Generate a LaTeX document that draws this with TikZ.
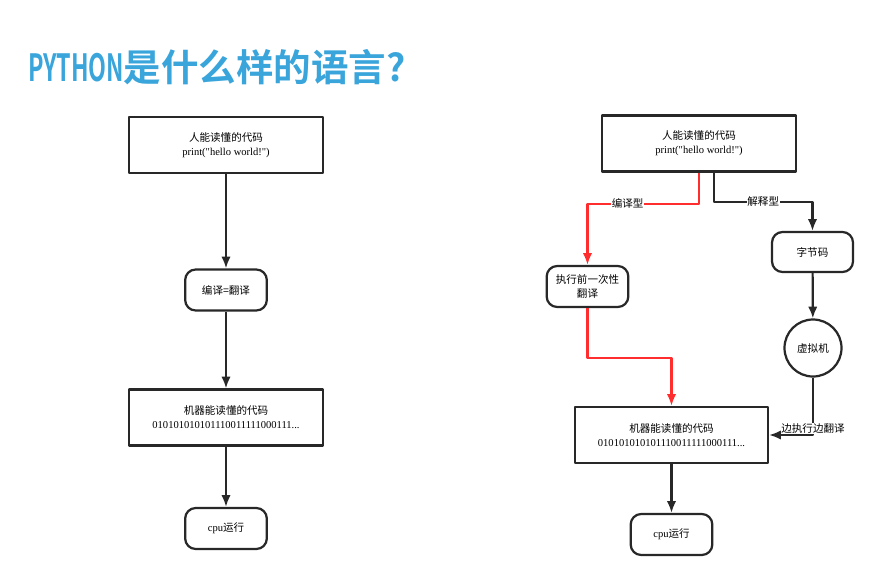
\documentclass[tikz,border=0pt]{standalone}
\usepackage{fontspec}
\usepackage{graphicx}
\usetikzlibrary{arrows.meta}
\setmainfont{Liberation Serif}[Ligatures=TeXOff]
\newfontfamily\cjk{Noto Sans CJK SC}
\newfontfamily\titlefont{Noto Sans CJK SC}[BoldFont=* Bold]
\definecolor{titleblue}{RGB}{58,165,219}
\definecolor{lineblack}{RGB}{40,40,40}
\definecolor{linered}{RGB}{255,45,45}
\begin{document}
\begin{tikzpicture}[x=0.03cm,y=-0.03cm,>={Latex[length=10pt,width=8pt]}, font=\fontsize{9}{12}\selectfont, line join=round,
	codebox/.style={draw=lineblack, line width=1.9pt, minimum width=5.82cm, minimum height=1.68cm, align=center, inner sep=1pt},
	stepnode/.style={draw=lineblack, line width=1.9pt, rounded corners=9pt, minimum width=2.45cm, minimum height=1.23cm, align=center, inner sep=1pt},
	vmnode/.style={draw=lineblack, line width=1.9pt, circle, minimum size=1.71cm, inner sep=0pt},
	flow/.style={->, color=lineblack, line width=1.9pt},
	redflow/.style={->, color=linered, line width=1.9pt},
	tag/.style={fill=white, text=black, inner sep=0.5pt}]
			\useasboundingbox (0,0) rectangle (889,584);
			% title
			\node[anchor=west, text=titleblue, font=\titlefont\bfseries\fontsize{32}{35}\selectfont, inner sep=0pt] (title) at (28,67) {\scalebox{0.62}[1]{PYTHON}是什么样的语言?};
			% left flow
			\node[codebox] (srcL) at (226,145) {{\cjk 人能读懂的代码}\\print("hello world!")};
			\node[stepnode] (transL) at (226,290) {{\cjk 编译=翻译}};
			\node[codebox] (machL) at (226,417.5) {{\cjk 机器能读懂的代码}\\010101010101110011111000111...};
			\node[stepnode] (cpuL) at (226,528.5) {cpu{\cjk 运行}};
			\draw[flow] (srcL) -- (transL);
			\draw[flow] (transL) -- (machL);
			\draw[flow] (machL) -- (cpuL);
			% right flow
			\node[codebox] (srcR) at (699,143.5) {{\cjk 人能读懂的代码}\\print("hello world!")};
			\node[stepnode] (compile) at (587.5,286.5) {{\cjk 执行前一次性}\\{\cjk 翻译}};
			\node[stepnode, minimum width=2.43cm, minimum height=1.2cm] (bytecode) at (812.5,252) {{\cjk 字节码}};
			\node[vmnode] (vm) at (813,348) {{\cjk 虚拟机}};
			\node[codebox, minimum width=5.79cm] (machR) at (671.5,435) {{\cjk 机器能读懂的代码}\\010101010101110011111000111...};
			\node[stepnode] (cpuR) at (671.5,534.5) {cpu{\cjk 运行}};
			\draw[redflow] (srcR.south) -- ++(0,31) -| (compile.north) node[pos=0.32, tag] {{\cjk 编译型}};
			\draw[flow] ([xshift=0.45cm]srcR.south) -- ++(0,29) -| (bytecode.north) node[pos=0.25, tag] {{\cjk 解释型}};
			\draw[redflow] (compile.south) -- ++(0,50) -| (machR.north);
			\draw[flow] (bytecode) -- (vm);
			\draw[flow] (vm.south) |- (machR.east) node[pos=0.5, tag, yshift=0.2cm] {{\cjk 边执行边翻译}};
			\draw[flow] (machR) -- (cpuR);
		\end{tikzpicture}
\end{document}
